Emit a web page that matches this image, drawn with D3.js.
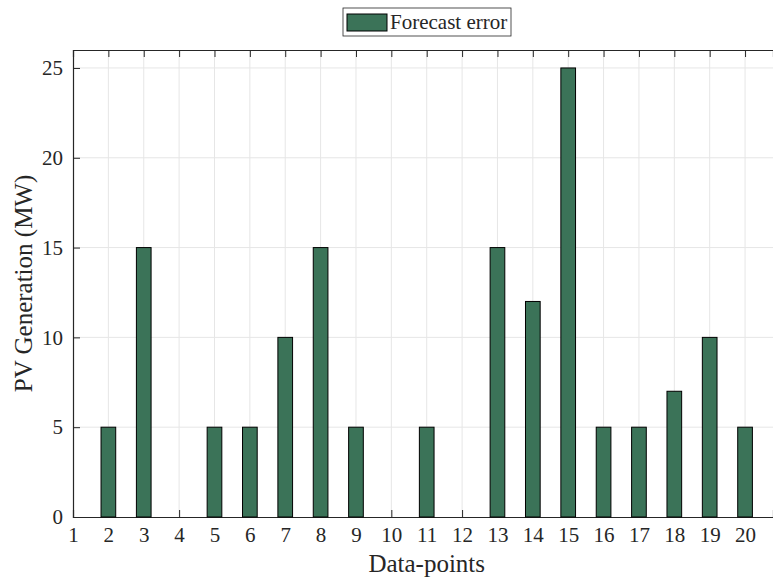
<!DOCTYPE html>
<html>
<head>
<meta charset="utf-8">
<script src="https://cdn.jsdelivr.net/npm/d3@7"></script>
<style>
  body { margin: 0; background: #fff; }
  svg { display: block; }
  text { font-family: "Liberation Serif", "DejaVu Serif", serif; fill: #262626; }
</style>
</head>
<body>
<div id="chart"></div>
<script>
'use strict';
var points = [1, 2, 3, 4, 5, 6, 7, 8, 9, 10, 11, 12, 13, 14, 15, 16, 17, 18, 19, 20];
var forecastError = [0, 5, 15, 0, 5, 5, 10, 15, 5, 0, 5, 0, 15, 12, 25, 5, 5, 7, 10, 5];
var yTicks = [0, 5, 10, 15, 20, 25];
var seriesName = 'Forecast error';

var W = 773, H = 577;
var margin = {top: 50, right: 0, bottom: 60, left: 73},
  width = W - margin.left - margin.right,
  height = H - margin.top - margin.bottom;

var x = d3.scaleLinear().domain([1, 20.79]).range([0, width]);
var y = d3.scaleLinear().domain([0, 26]).range([height, 0]);
var barW = x(1.415) - x(1);
var axisColor = '#262626';
var barColor = '#3b7358';

var svg = d3.select('#chart').append('svg')
  .attr('width', W)
  .attr('height', H);

var g = svg.append('g')
  .attr('transform', 'translate(' + margin.left + ',' + margin.top + ')');

// grid
g.append('g').selectAll('line')
  .data(points.slice(1))
  .enter().append('line')
  .attr('x1', function(d) { return x(d); })
  .attr('x2', function(d) { return x(d); })
  .attr('y1', 0).attr('y2', height)
  .attr('stroke', '#e6e6e6').attr('stroke-width', 1);

g.append('g').selectAll('line')
  .data(yTicks.slice(1))
  .enter().append('line')
  .attr('x1', 0).attr('x2', width)
  .attr('y1', function(d) { return y(d); })
  .attr('y2', function(d) { return y(d); })
  .attr('stroke', '#e6e6e6').attr('stroke-width', 1);

// axes
var xBottom = g.append('g')
  .attr('transform', 'translate(0,' + height + ')')
  .call(d3.axisBottom(x).tickValues(points).tickSize(-7).tickPadding(10).tickFormat(d3.format('d')));
var xTop = g.append('g')
  .call(d3.axisTop(x).tickValues(points).tickSize(-7).tickFormat(''));
var yLeft = g.append('g')
  .call(d3.axisLeft(y).tickValues(yTicks).tickSize(-7).tickPadding(10));

[xBottom, xTop, yLeft].forEach(function(a) {
  a.select('.domain').attr('stroke', axisColor).attr('stroke-width', 1.2);
  a.selectAll('.tick line').attr('stroke', axisColor).attr('stroke-width', 1);
  a.selectAll('.tick text').style('font-size', '21px').attr('fill', axisColor);
});

// bars
g.selectAll('.bar')
  .data(forecastError)
  .enter().append('rect')
  .attr('class', 'bar')
  .attr('x', function(d, i) { return x(points[i]) - barW / 2; })
  .attr('width', barW)
  .attr('y', function(d) { return y(d); })
  .attr('height', function(d) { return y(0) - y(d); })
  .attr('fill', barColor)
  .attr('stroke', '#000')
  .attr('stroke-width', 1);

// axis labels
svg.append('text')
  .attr('x', margin.left + x(11))
  .attr('y', 572)
  .attr('text-anchor', 'middle')
  .style('font-size', '25px')
  .text('Data-points');

svg.append('text')
  .attr('transform', 'translate(32,' + (margin.top + height / 2) + ') rotate(-90)')
  .attr('text-anchor', 'middle')
  .style('font-size', '25px')
  .text('PV Generation (MW)');

// legend
var leg = svg.append('g').attr('transform', 'translate(343,8)');
leg.append('rect')
  .attr('width', 168).attr('height', 28)
  .attr('fill', '#fff').attr('stroke', '#262626').attr('stroke-width', 0.8);
leg.append('rect')
  .attr('x', 4).attr('y', 6).attr('width', 40).attr('height', 17)
  .attr('fill', barColor).attr('stroke', '#000').attr('stroke-width', 1);
leg.append('text')
  .attr('x', 47).attr('y', 21)
  .style('font-size', '21px')
  .text(seriesName);
</script>
</body>
</html>
